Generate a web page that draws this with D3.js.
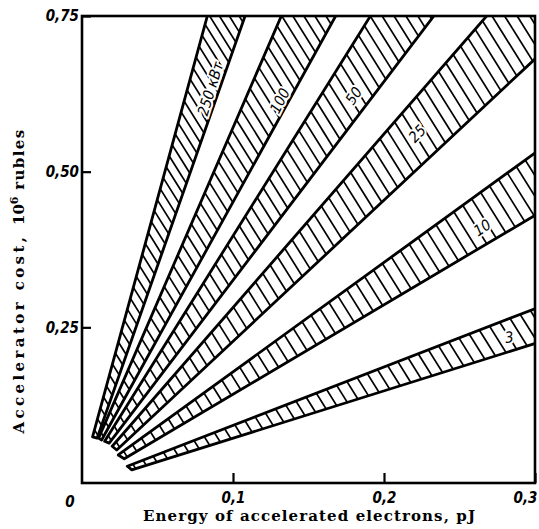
<!DOCTYPE html>
<html>
  <head>
      <meta charset="utf-8">
      <script src="https://d3js.org/d3.v7.min.js"></script>
      <style>
      body {margin: 0; background-color: #fff;}
      .tick text {font-family: "Liberation Sans Narrow", "DejaVu Sans Condensed", sans-serif; font-style: italic; font-weight: bold; font-size: 15px;}
      </style>
   </head>
<body style="overflow: hidden;">
<div id="canvas"></div>

<script type="text/javascript">

    // bands of accelerator cost vs. electron energy, one per beam power
    var bandLabels = ["250 кВт", "100", "50", "25", "10", "3"];

    // upper edge of each band: where it starts and where it leaves the frame
    var upperStart = [[0.007, 0.074], [0.011, 0.072], [0.015, 0.067], [0.020, 0.059], [0.024, 0.045], [0.030, 0.027]];
    var upperEnd   = [[0.083, 0.75], [0.132, 0.75], [0.191, 0.75], [0.268, 0.75], [0.300, 0.530], [0.300, 0.280]];

    // lower edge of each band
    var lowerStart = [[0.010, 0.072], [0.013, 0.069], [0.018, 0.064], [0.023, 0.053], [0.028, 0.039], [0.033, 0.021]];
    var lowerEnd   = [[0.108, 0.75], [0.168, 0.75], [0.233, 0.75], [0.300, 0.681], [0.300, 0.430], [0.300, 0.224]];

    // where the power label sits inside each band
    var labelAt = [[0.085, 0.633], [0.131, 0.614], [0.180, 0.622], [0.222, 0.561], [0.265, 0.410], [0.283, 0.234]];

    var xTicks = [0.1, 0.2, 0.3];
    var yTicks = [0.25, 0.5, 0.75];

    var width = 539;
    var height = 529;

    var x = d3.scaleLinear().domain([0, 0.3]).range([82, 535]);
    var y = d3.scaleLinear().domain([0, 0.75]).range([483, 16]);

    var comma = function (f) { return function (d) { return d3.format(f)(d).replace(".", ","); }; };

    var svg = d3.select("#canvas").append("svg")
            .attr("width", width)
            .attr("height", height);

    svg.append("rect").attr("width", width).attr("height", height).attr("fill", "#fff");

    var defs = svg.append("defs");
    defs.append("clipPath").attr("id", "plot")
        .append("rect")
        .attr("x", x(0)).attr("y", y(0.75))
        .attr("width", x(0.3) - x(0)).attr("height", y(0) - y(0.75));

    var plot = svg.append("g").attr("clip-path", "url(#plot)");

    var hatchDir = [Math.cos(58 * Math.PI / 180), Math.sin(58 * Math.PI / 180)];

    function pt(p) { return [x(p[0]), y(p[1])]; }
    function stretch(a, b, k) { return [a[0] + (b[0] - a[0]) * k, a[1] + (b[1] - a[1]) * k]; }
    function mid(a, b) { return [(a[0] + b[0]) / 2, (a[1] + b[1]) / 2]; }

    var angles = [];

    bandLabels.forEach(function (name, i) {
        var us = pt(upperStart[i]), ue = stretch(us, pt(upperEnd[i]), 1.5);
        var ls = pt(lowerStart[i]), le = stretch(ls, pt(lowerEnd[i]), 1.5);
        var poly = [us, ue, le, ls];

        defs.append("clipPath").attr("id", "band" + i)
            .append("polygon").attr("points", poly.join(" "));

        var c0 = mid(us, ls), c1 = mid(ue, le);
        var len = Math.hypot(c1[0] - c0[0], c1[1] - c0[1]);
        angles.push(Math.atan2(c1[1] - c0[1], c1[0] - c0[0]) * 180 / Math.PI);

        var steps = d3.range(5, len, 11).map(function (s) { return stretch(c0, c1, s / len); });

        plot.append("g").attr("clip-path", "url(#band" + i + ")")
            .selectAll("line").data(steps)
            .enter().append("line")
            .attr("x1", function (d) { return d[0] - hatchDir[0] * 80; })
            .attr("y1", function (d) { return d[1] - hatchDir[1] * 80; })
            .attr("x2", function (d) { return d[0] + hatchDir[0] * 80; })
            .attr("y2", function (d) { return d[1] + hatchDir[1] * 80; })
            .style("stroke", "#000")
            .style("stroke-width", 1.7);

        plot.append("polygon")
            .attr("points", poly.join(" "))
            .style("fill", "none")
            .style("stroke", "#000")
            .style("stroke-width", 2.8)
            .style("stroke-linejoin", "round");
    });

    plot.selectAll("text.band")
        .data(bandLabels)
        .enter().append("text")
        .attr("class", "band")
        .attr("transform", function (d, i) {
            var a = i === bandLabels.length - 1 ? -8 : angles[i];
            return "translate(" + x(labelAt[i][0]) + "," + y(labelAt[i][1]) + ") rotate(" + a + ")";
        })
        .attr("text-anchor", "middle")
        .attr("dy", "0.35em")
        .text(function (d) { return d; })
        .attr("font-family", "'Liberation Sans Narrow', 'DejaVu Sans Condensed', sans-serif")
        .attr("font-style", "italic")
        .attr("font-size", "15px")
        .attr("fill", "#000")
        .attr("stroke", "#fff")
        .attr("stroke-width", 4)
        .attr("paint-order", "stroke");

    // axes: ticks point into the frame
    var xa = svg.append("g")
        .attr("transform", "translate(0," + y(0) + ")")
        .call(d3.axisBottom(x).tickValues(xTicks).tickFormat(comma(".1f")).tickSizeInner(-10).tickSizeOuter(0).tickPadding(9))
        .call(function (g) { g.select(".domain").remove(); });
    xa.selectAll("line").style("stroke-width", 2.2);
    xa.selectAll("text").filter(function (d) { return d === 0.3; }).attr("dx", -10);

    svg.append("g")
        .attr("transform", "translate(" + x(0) + ",0)")
        .call(d3.axisLeft(y).tickValues(yTicks).tickFormat(comma(".2f")).tickSizeInner(-9).tickSizeOuter(0).tickPadding(3))
        .call(function (g) { g.select(".domain").remove(); })
        .selectAll("line").style("stroke-width", 2.2);

    svg.append("text")
        .attr("x", x(0) - 12)
        .attr("y", y(0) + 24)
        .attr("text-anchor", "middle")
        .attr("font-family", "'Liberation Sans Narrow', 'DejaVu Sans Condensed', sans-serif")
        .attr("font-style", "italic")
        .attr("font-weight", "bold")
        .attr("font-size", "15px")
        .text("0");

    svg.append("rect")
        .attr("x", x(0)).attr("y", y(0.75))
        .attr("width", x(0.3) - x(0)).attr("height", y(0) - y(0.75))
        .style("fill", "none")
        .style("stroke", "#000")
        .style("stroke-width", 2.6);

    // axis titles
    svg.append("text")
        .attr("x", 309)
        .attr("y", 521)
        .attr("text-anchor", "middle")
        .attr("font-family", "'DejaVu Serif', serif")
        .attr("font-weight", "bold")
        .attr("font-size", "15px")
        .attr("textLength", 332)
        .attr("lengthAdjust", "spacing")
        .text("Energy of accelerated electrons, pJ");

    var yt = svg.append("text")
        .attr("transform", "translate(24,281) rotate(-90)")
        .attr("text-anchor", "middle")
        .attr("font-family", "'DejaVu Serif', serif")
        .attr("font-weight", "bold")
        .attr("font-size", "15px");
    yt.append("tspan").attr("letter-spacing", "3.4px").text("Accelerator cost, ");
    yt.append("tspan").text("10");
    yt.append("tspan").attr("dy", "-6").attr("font-size", "11px").text("6");
    yt.append("tspan").attr("dy", "6").attr("letter-spacing", "1.4px").text(" rubles");

</script>
</body>
</html>
